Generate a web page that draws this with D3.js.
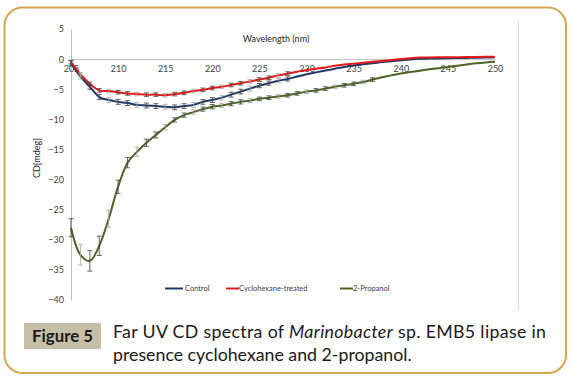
<!DOCTYPE html>
<html>
<head>
<meta charset="utf-8">
<script src="https://cdn.jsdelivr.net/npm/d3@7"></script>
<style>
  html, body { margin: 0; padding: 0; background: #ffffff; }
  svg { display: block; }
</style>
</head>
<body>
<svg id="chart" width="573" height="381"></svg>
<script>
// ---- data ----
const wavelengths = d3.range(205, 251);
const control = [-0.7,-2.9,-4.6,-6.3,-6.8,-7.1,-7.3,-7.6,-7.7,-7.8,-7.9,-8.0,-7.8,-7.6,-7.1,-6.8,-6.4,-5.9,-5.4,-4.9,
  -4.4,-4.0,-3.6,-3.3,-2.9,-2.5,-2.2,-1.9,-1.6,-1.3,-1.05,-0.85,-0.7,-0.5,-0.35,-0.2,-0.05,0.05,0.1,0.12,
  0.15,0.18,0.2,0.22,0.25,0.3];
const cyclohexane = [-0.5,-2.5,-4.1,-5.2,-5.3,-5.5,-5.7,-5.8,-5.9,-5.9,-6.0,-5.8,-5.6,-5.3,-5.1,-4.8,-4.6,-4.3,-4.0,-3.7,
  -3.4,-3.1,-2.7,-2.4,-2.1,-1.8,-1.6,-1.4,-1.1,-0.9,-0.75,-0.6,-0.45,-0.3,-0.15,0.0,0.15,0.25,0.28,0.3,
  0.3,0.32,0.34,0.36,0.38,0.4];
const propanol = [-28.0,-32.5,-33.5,-31.0,-26.5,-21.2,-17.2,-15.4,-13.9,-12.6,-11.3,-10.1,-9.3,-8.8,-8.3,-7.9,-7.7,-7.4,-7.1,-6.9,
  -6.6,-6.4,-6.2,-6.0,-5.7,-5.4,-5.2,-4.9,-4.6,-4.35,-4.1,-3.8,-3.4,-3.0,-2.7,-2.4,-2.15,-1.95,-1.7,-1.5,
  -1.3,-1.1,-0.9,-0.7,-0.55,-0.45];
const controlErr = [0.4,0.4,0.4,0.4,0.4,0.4,0.4,0.4,0.4,0.4,0.4,0.4,0.4,0.4,0.4,0.4,0.4,0.4,0.4,0.4,
  0.35,0.35,0.35,0.35,0,0,0,0,0,0,0,0,0,0,0,0,0,0,0,0,0,0,0,0,0,0];
const cyclohexaneErr = [0.3,0.3,0.3,0.3,0.3,0.3,0.3,0.3,0.3,0.3,0.3,0.3,0.3,0.3,0.3,0.3,0.3,0.3,0.3,0.3,
  0.3,0.3,0.3,0.3,0,0,0,0,0,0,0,0,0,0,0,0,0,0,0,0,0,0,0,0,0,0];
const propanolErr = [1.5,1.7,1.7,1.6,1.4,1.1,0.85,0.75,0.6,0.5,0.45,0.35,0.35,0.35,0.35,0.35,0.35,0.35,0.35,0.35,
  0.3,0.3,0.3,0.3,0.3,0.3,0.3,0.3,0.3,0.3,0.3,0.3,0.3,0,0,0,0,0,0,0,0,0,0,0,0,0];
const xTicks = [205,210,215,220,225,230,235,240,245,250];
const yTicks = [5,0,-5,-10,-15,-20,-25,-30,-35,-40];
const seriesNames = ["Control", "Cyclohexane-treated", "2-Propanol"];
const seriesColors = ["#1f3864", "#e31a1c", "#4f6228"];

const series = [
  {name: seriesNames[0], color: seriesColors[0], values: control, err: controlErr},
  {name: seriesNames[1], color: seriesColors[1], values: cyclohexane, err: cyclohexaneErr},
  {name: seriesNames[2], color: seriesColors[2], values: propanol, err: propanolErr}
];

const svg = d3.select("#chart");
const font = "Lato, 'Open Sans', sans-serif";

// frame
svg.append("rect")
  .attr("x", 4.5).attr("y", 7.5).attr("width", 561.5).attr("height", 365.5)
  .attr("rx", 18).attr("ry", 18)
  .attr("fill", "#ffffff").attr("stroke", "#d3a851").attr("stroke-width", 2);

// scales
const x = d3.scaleLinear().domain([205, 250]).range([71, 495]);
const y = d3.scaleLinear().domain([5, -40]).range([29, 300]);

// right border line of chart area
svg.append("line").attr("x1", 518.5).attr("x2", 518.5).attr("y1", 21).attr("y2", 310)
  .attr("stroke", "#d9d9d9").attr("stroke-width", 1);

// y axis
const yAxis = svg.append("g").attr("transform", `translate(${x(205)},0)`)
  .call(d3.axisLeft(y).tickValues(yTicks).tickSize(0).tickPadding(7).tickFormat(d3.format("d")));
yAxis.select(".domain").attr("stroke", "#bfbfbf");
yAxis.selectAll("text").attr("font-family", font).attr("font-size", 9).attr("fill", "#404040");

// x axis at y=0
const xAxis = svg.append("g").attr("transform", `translate(0,${y(0)})`)
  .call(d3.axisBottom(x).tickValues(xTicks).tickSize(0).tickPadding(7));
xAxis.select(".domain").attr("stroke", "#bfbfbf");
xAxis.selectAll("text").attr("font-family", font).attr("font-size", 9).attr("fill", "#404040");

// axis titles
svg.append("text").attr("x", 276).attr("y", 42).attr("text-anchor", "middle")
  .attr("font-family", font).attr("font-size", 9).attr("fill", "#262626").text("Wavelength (nm)");
svg.append("text").attr("transform", "translate(40,158) rotate(-90)").attr("text-anchor", "middle")
  .attr("font-family", font).attr("font-size", 9).attr("fill", "#262626").text("CD[mdeg]");

// lines
const line = d3.line().x((d, i) => x(wavelengths[i])).y(d => y(d)).curve(d3.curveCatmullRom.alpha(0.5));
series.forEach(s => {
  svg.append("path").attr("d", line(s.values)).attr("fill", "none")
    .attr("stroke", s.color).attr("stroke-width", 2);
});

// error bars
series.forEach(s => {
  const g = svg.append("g");
  s.values.forEach((v, i) => {
    const e = s.err[i];
    if (!e) return;
    const cx = x(wavelengths[i]);
    const col = (i % 3 === 1) ? "#a6a6a6" : "#404040";
    g.append("line").attr("x1", cx).attr("x2", cx).attr("y1", y(v - e)).attr("y2", y(v + e))
      .attr("stroke", col).attr("stroke-width", 0.8);
    [v - e, v + e].forEach(t => {
      g.append("line").attr("x1", cx - 2.5).attr("x2", cx + 2.5).attr("y1", y(t)).attr("y2", y(t))
        .attr("stroke", col).attr("stroke-width", 0.8);
    });
  });
});

// legend
const legendItems = [
  {x1: 165, x2: 183, tx: 185},
  {x1: 226, x2: 239, tx: 239},
  {x1: 340, x2: 353, tx: 353}
];
series.forEach((s, i) => {
  const L = legendItems[i];
  svg.append("line").attr("x1", L.x1).attr("x2", L.x2).attr("y1", 288.5).attr("y2", 288.5)
    .attr("stroke", s.color).attr("stroke-width", 2);
  svg.append("text").attr("x", L.tx).attr("y", 291).attr("font-family", font).attr("font-size", 7.5)
    .attr("fill", "#404040").text(s.name);
});

// caption
svg.append("rect").attr("x", 24).attr("y", 323).attr("width", 77).attr("height", 26).attr("fill", "#c4bfa6");
const fig = svg.append("text").attr("x", 62.5).attr("y", 342).attr("text-anchor", "middle")
  .attr("font-family", font).attr("font-weight", "bold").attr("font-size", 17).attr("fill", "#1a1a1a")
  .text("Figure 5");
let fw = fig.node().getComputedTextLength();
fig.attr("font-size", 17 * 61 / fw);

const line2 = svg.append("text").attr("x", 113).attr("y", 361)
  .attr("font-family", font).attr("font-size", 17).attr("fill", "#1a1a1a")
  .text("presence cyclohexane and 2-propanol.");
const w2 = line2.node().getComputedTextLength();
const capSize = 17 * 299 / w2;
line2.attr("font-size", capSize);

const line1 = svg.append("text").attr("x", 113).attr("y", 338)
  .attr("font-family", font).attr("font-size", capSize).attr("fill", "#1a1a1a");
line1.append("tspan").text("Far UV CD spectra of ");
line1.append("tspan").attr("font-style", "italic").text("Marinobacter");
line1.append("tspan").text(" sp. EMB5 lipase in");
line1.attr("textLength", 433).attr("lengthAdjust", "spacing");
</script>
</body>
</html>
